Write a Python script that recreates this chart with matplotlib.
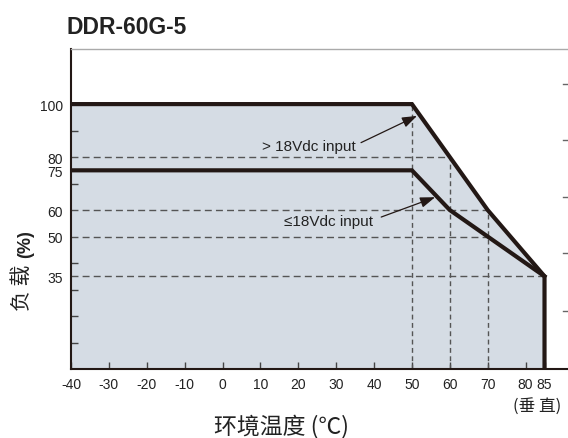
import numpy as np
import matplotlib.pyplot as plt

# derating curves (ambient temp -> load %)
temp_hi = [-40, 50, 60, 70, 85]
load_hi = [100, 100, 80, 60, 35]
temp_lo = [-40, 50, 60, 85]
load_lo = [75, 75, 60, 35]

xticks = [-40, -30, -20, -10, 0, 10, 20, 30, 40, 50, 60, 70, 80, 85]
xlabels = ["-40", "-30", "-20", "-10", "0", "10", "20", "30", "40", "50", "60", "70", "80", "85"]
yticks = [35, 50, 60, 75, 80, 100]
yminor = [10, 20, 30, 40, 50, 60, 70, 80, 90, 100]
right_ticks = [21.9, 43.8, 64.9, 86.4, 107.5]

# dashed guide lines
h_guides = [(80, 60), (60, 70), (50, 70), (35, 85)]   # (load, to temp)
v_guides = [(50, 100), (60, 80), (70, 60)]            # (temp, to load)

dark = "#231815"
fill_c = "#d5dce4"
guide_c = "#555555"
txt_c = "#222222"
latin = ["Liberation Sans", "DejaVu Sans"]
cjk = ["Noto Sans CJK SC", "DejaVu Sans"]

fig = plt.figure(figsize=(5.68, 4.39), dpi=100)
ax = fig.add_axes([71 / 568, 69 / 439, 1 - 71 / 568 + 0.002, 320 / 439])

ax.fill_between(temp_hi + [85], load_hi + [0], 0, color=fill_c, lw=0, zorder=1)

for y, xe in h_guides:
    ax.plot([-40, xe], [y, y], ls=(0, (5, 3)), color=guide_c, lw=1, zorder=2)
for x, ye in v_guides:
    ax.plot([x, x], [0, ye], ls=(0, (3.5, 2.5)), color=guide_c, lw=1, zorder=2)

ax.plot(temp_hi + [85], load_hi + [0], color=dark, lw=3, solid_joinstyle="miter", zorder=3)
ax.plot(temp_lo, load_lo, color=dark, lw=3, solid_joinstyle="miter", zorder=3)

ax.set_xlim(-40, 91.5)
ax.set_ylim(0, 120.8)

ax.set_xticks(xticks)
ax.set_xticklabels(xlabels, family=latin, fontsize=10, color=txt_c)
ax.tick_params(axis="x", direction="in", length=5, width=1, color="#444444", pad=6)

ax.set_yticks(yticks)
ax.set_yticklabels([str(v) for v in yticks], family=latin, fontsize=10, color=txt_c)
ax.set_yticks(yminor, minor=True)
ax.tick_params(axis="y", which="major", length=0, pad=6)
ax.tick_params(axis="y", which="minor", direction="in", length=5, width=1, color="#444444")

# ticks near the right edge
for v in right_ticks:
    ax.plot([89.9, 91.5], [v, v], color="#666666", lw=1, clip_on=False, zorder=4)

for s in ["left", "bottom"]:
    ax.spines[s].set_color(dark)
    ax.spines[s].set_linewidth(1.5)
ax.spines["top"].set_color("#aaaaaa")
ax.spines["top"].set_linewidth(1)
ax.spines["right"].set_visible(False)

# annotations
arrow = dict(arrowstyle="-|>,head_length=0.9,head_width=0.32", color=dark, lw=0.9)
ax.text(35.2, 84.3, "> 18Vdc input", ha="right", va="center", family=latin, fontsize=11, color=txt_c)
ax.annotate("", xy=(52, 96), xytext=(35.9, 85), arrowprops=arrow)
ax.text(39.6, 56, "≤18Vdc input", ha="right", va="center", family=latin, fontsize=11, color=txt_c)
ax.annotate("", xy=(56.8, 65.2), xytext=(41.2, 57), arrowprops=arrow)

fig.text(67 / 568, 1 - 27 / 439, "DDR-60G-5", ha="left", va="center",
         family=latin, fontweight="bold", fontsize=16.5, color=txt_c)
fig.text(281 / 568, 1 - 426 / 439, "环境温度 (℃)", ha="center", va="center",
         family=cjk, fontweight="light", fontsize=16.5, color=txt_c)
fig.text(22 / 568, 1 - 288 / 439, "负 载", ha="center", va="center", rotation=90,
         family=cjk, fontweight="light", fontsize=15, color=txt_c)
fig.text(26 / 568, 1 - 244 / 439, "(%)", ha="center", va="center", rotation=90,
         family=latin, fontweight="bold", fontsize=13, color=txt_c)
fig.text(537 / 568, 1 - 407 / 439, "(垂 直)", ha="center", va="center",
         family=cjk, fontweight="light", fontsize=12, color=txt_c)

plt.savefig("out.png", dpi=100)
